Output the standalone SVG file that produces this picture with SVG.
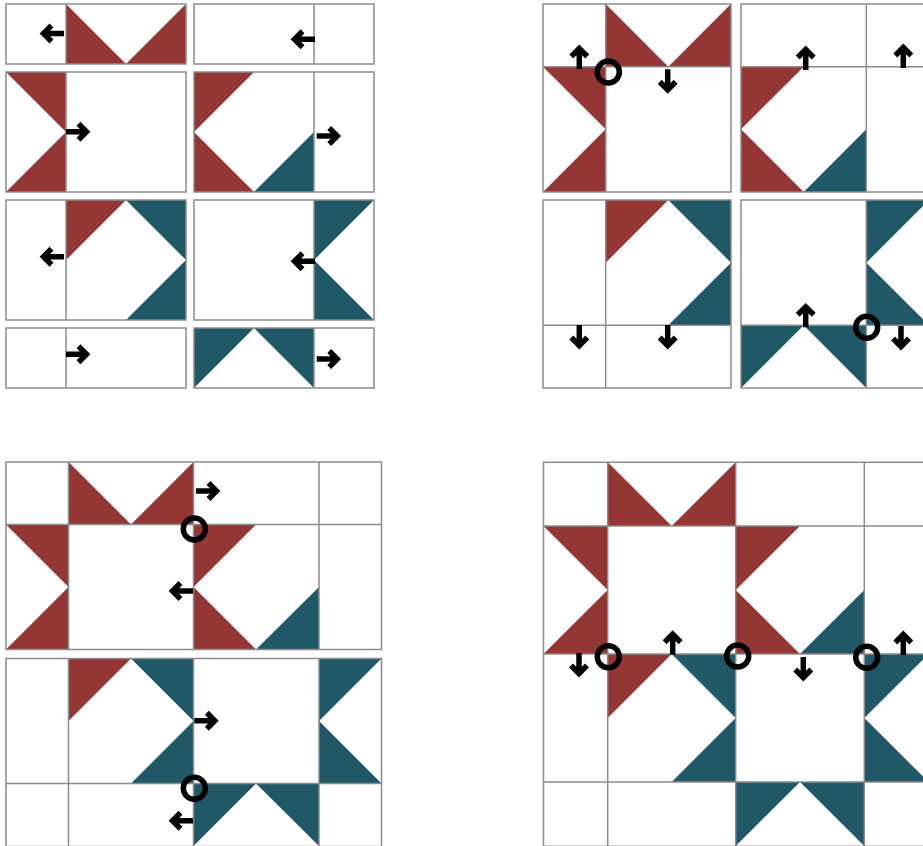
<svg xmlns="http://www.w3.org/2000/svg" xmlns:xlink="http://www.w3.org/1999/xlink" width="923" height="846" viewBox="0 0 923 846">
<style>
.bg{fill:#fff}
.r{fill:#943634}
.t{fill:#215868}
.ln{fill:none;stroke:#8c8c8c;stroke-width:1.5}
.ring{fill:none;stroke:#000;stroke-width:5.5}
.ar{fill:none;stroke:#000;stroke-width:5.5;stroke-linejoin:miter}
</style>
<defs>
<g id="arr"><path class="ar" d="M-24,0 H-4 M-11.5,-8 L-3.5,0 L-11.5,8"/></g>
</defs>
<rect width="923" height="846" fill="#fff"/>

<g id="tl-a">
<rect class="bg" x="6" y="4" width="180" height="60"/>
<polygon class="r" points="66,4 126,64 66,64"/><polygon class="r" points="186,4 126,64 186,64"/>
<path class="ln" d="M66,4V64"/><rect class="ln" x="6" y="4" width="180" height="60"/>
</g>
<g id="tl-b">
<rect class="bg" x="194" y="4" width="180" height="60"/>
<path class="ln" d="M314,4V64"/><rect class="ln" x="194" y="4" width="180" height="60"/>
</g>
<g id="tl-c">
<rect class="bg" x="6" y="72" width="180" height="120"/>
<polygon class="r" points="6,72 66,72 66,132"/><polygon class="r" points="66,132 66,192 6,192"/>
<path class="ln" d="M66,72V192"/><rect class="ln" x="6" y="72" width="180" height="120"/>
</g>
<g id="tl-d">
<rect class="bg" x="194" y="72" width="180" height="120"/>
<polygon class="r" points="194,72 254,72 194,132"/><polygon class="r" points="194,132 254,192 194,192"/>
<polygon class="t" points="314,132 314,192 254,192"/>
<path class="ln" d="M314,72V192"/><rect class="ln" x="194" y="72" width="180" height="120"/>
</g>
<g id="tl-e">
<rect class="bg" x="6" y="200" width="180" height="120"/>
<polygon class="r" points="66,200 126,200 66,260"/>
<polygon class="t" points="126,200 186,200 186,260"/><polygon class="t" points="186,260 186,320 126,320"/>
<path class="ln" d="M66,200V320"/><rect class="ln" x="6" y="200" width="180" height="120"/>
</g>
<g id="tl-f">
<rect class="bg" x="194" y="200" width="180" height="120"/>
<polygon class="t" points="314,200 374,200 314,260"/><polygon class="t" points="314,260 374,320 314,320"/>
<path class="ln" d="M314,200V320"/><rect class="ln" x="194" y="200" width="180" height="120"/>
</g>
<g id="tl-g">
<rect class="bg" x="6" y="328" width="180" height="60"/>
<path class="ln" d="M66,328V388"/><rect class="ln" x="6" y="328" width="180" height="60"/>
</g>
<g id="tl-h">
<rect class="bg" x="194" y="328" width="180" height="60"/>
<polygon class="t" points="194,328 254,328 194,388"/><polygon class="t" points="254,328 314,328 314,388"/>
<path class="ln" d="M314,328V388"/><rect class="ln" x="194" y="328" width="180" height="60"/>
</g>

<g id="tr-a">
<rect class="bg" x="543" y="4" width="188" height="188"/>
<polygon class="r" points="605.7,4 668.3,66.7 605.7,66.7"/><polygon class="r" points="731,4 668.3,66.7 731,66.7"/>
<polygon class="r" points="543,66.7 605.7,66.7 605.7,129.3"/><polygon class="r" points="605.7,129.3 605.7,192 543,192"/>
<path class="ln" d="M605.7,4V192M543,66.7H731"/><rect class="ln" x="543" y="4" width="188" height="188"/>
</g>
<g id="tr-b">
<rect class="bg" x="741" y="4" width="188" height="188"/>
<polygon class="r" points="741,66.7 803.7,66.7 741,129.3"/><polygon class="r" points="741,129.3 803.7,192 741,192"/>
<polygon class="t" points="866.3,129.3 866.3,192 803.7,192"/>
<path class="ln" d="M866.3,4V192M741,66.7H929"/><rect class="ln" x="741" y="4" width="188" height="188"/>
</g>
<g id="tr-c">
<rect class="bg" x="543" y="200" width="188" height="188"/>
<polygon class="r" points="605.7,200 668.3,200 605.7,262.7"/>
<polygon class="t" points="668.3,200 731,200 731,262.7"/><polygon class="t" points="731,262.7 731,325.3 668.3,325.3"/>
<path class="ln" d="M605.7,200V388M543,325.3H731"/><rect class="ln" x="543" y="200" width="188" height="188"/>
</g>
<g id="tr-d">
<rect class="bg" x="741" y="200" width="188" height="188"/>
<polygon class="t" points="866.3,200 929,200 866.3,262.7"/><polygon class="t" points="866.3,262.7 929,325.3 866.3,325.3"/>
<polygon class="t" points="741,325.3 803.7,325.3 741,388"/><polygon class="t" points="803.7,325.3 866.3,325.3 866.3,388"/>
<path class="ln" d="M866.3,200V388M741,325.3H929"/><rect class="ln" x="741" y="200" width="188" height="188"/>
</g>

<g id="bl-a">
<rect class="bg" x="6" y="462" width="375.5" height="187.5"/>
<polygon class="r" points="68.5,462 131,524.5 68.5,524.5"/><polygon class="r" points="193.5,462 131,524.5 193.5,524.5"/>
<polygon class="r" points="6,524.5 68.5,524.5 68.5,587"/><polygon class="r" points="68.5,587 68.5,649.5 6,649.5"/>
<polygon class="r" points="193.5,524.5 256,524.5 193.5,587"/><polygon class="r" points="193.5,587 256,649.5 193.5,649.5"/>
<polygon class="t" points="319,587 319,649.5 256,649.5"/>
<path class="ln" d="M68.5,462V649.5M193.5,462V649.5M319,462V649.5M6,524.5H381.5"/>
<rect class="ln" x="6" y="462" width="375.5" height="187.5"/>
</g>
<g id="bl-b">
<rect class="bg" x="6" y="658.5" width="375.5" height="188"/>
<polygon class="r" points="68.5,658.5 131,658.5 68.5,721"/>
<polygon class="t" points="131,658.5 193.5,658.5 193.5,721"/><polygon class="t" points="193.5,721 193.5,783.5 131,783.5"/>
<polygon class="t" points="319,658.5 381.5,658.5 319,721"/><polygon class="t" points="319,721 381.5,783.5 319,783.5"/>
<polygon class="t" points="193.5,783.5 256,783.5 193.5,846"/><polygon class="t" points="256,783.5 319,783.5 319,846"/>
<path class="ln" d="M68.5,658.5V846M193.5,658.5V846M319,658.5V846M6,783.5H381.5"/>
<rect class="ln" x="6" y="658.5" width="375.5" height="188"/>
</g>

<g id="br">
<rect class="bg" x="543.5" y="462.3" width="385" height="384"/>
<polygon class="r" points="607.7,462.3 671.7,526 607.7,526"/><polygon class="r" points="735.7,462.3 671.7,526 735.7,526"/>
<polygon class="r" points="543.5,526 607.7,526 607.7,590"/><polygon class="r" points="607.7,590 607.7,654 543.5,654"/>
<polygon class="r" points="735.7,526 800,526 735.7,590"/><polygon class="r" points="735.7,590 800,654 735.7,654"/>
<polygon class="t" points="864.3,590 864.3,654 800,654"/>
<polygon class="r" points="607.7,654 671.7,654 607.7,718"/>
<polygon class="t" points="671.7,654 735.7,654 735.7,718"/><polygon class="t" points="735.7,718 735.7,782 671.7,782"/>
<polygon class="t" points="864.3,654 928.5,654 864.3,718"/><polygon class="t" points="864.3,718 928.5,782 864.3,782"/>
<polygon class="t" points="735.7,782 800,782 735.7,846"/><polygon class="t" points="800,782 864.3,782 864.3,846"/>
<path class="ln" d="M607.7,462.3V846M735.7,462.3V846M864.3,462.3V846M543.5,526H928.5M543.5,654H928.5M543.5,782H928.5"/>
<rect class="ln" x="543.5" y="462.3" width="385" height="384"/>
</g>

<g id="arrows">
<use xlink:href="#arr" transform="translate(40,33.5) rotate(180)"/>
<use xlink:href="#arr" transform="translate(291,39.3) rotate(180)"/>
<use xlink:href="#arr" transform="translate(90,131.7)"/>
<use xlink:href="#arr" transform="translate(340.7,136)"/>
<use xlink:href="#arr" transform="translate(40,256.7) rotate(180)"/>
<use xlink:href="#arr" transform="translate(291,261.3) rotate(180)"/>
<use xlink:href="#arr" transform="translate(90,354.3)"/>
<use xlink:href="#arr" transform="translate(340.7,359)"/>
<use xlink:href="#arr" transform="translate(579.3,45) rotate(-90)"/>
<use xlink:href="#arr" transform="translate(667.7,93.3) rotate(90)"/>
<use xlink:href="#arr" transform="translate(805.7,46) rotate(-90)"/>
<use xlink:href="#arr" transform="translate(903.3,44) rotate(-90)"/>
<use xlink:href="#arr" transform="translate(579.3,349) rotate(90)"/>
<use xlink:href="#arr" transform="translate(667.7,349) rotate(90)"/>
<use xlink:href="#arr" transform="translate(805.7,303.3) rotate(-90)"/>
<use xlink:href="#arr" transform="translate(901,350) rotate(90)"/>
<use xlink:href="#arr" transform="translate(220,491)"/>
<use xlink:href="#arr" transform="translate(169,591) rotate(180)"/>
<use xlink:href="#arr" transform="translate(218.3,720.7)"/>
<use xlink:href="#arr" transform="translate(169,820.7) rotate(180)"/>
<use xlink:href="#arr" transform="translate(579,677) rotate(90)"/>
<use xlink:href="#arr" transform="translate(672.7,630.7) rotate(-90)"/>
<use xlink:href="#arr" transform="translate(803.3,681) rotate(90)"/>
<use xlink:href="#arr" transform="translate(903.3,631) rotate(-90)"/>
</g>
<g id="rings">
<circle class="ring" cx="608.3" cy="72" r="11"/>
<circle class="ring" cx="866.7" cy="327.3" r="11"/>
<circle class="ring" cx="194.3" cy="529" r="11"/>
<circle class="ring" cx="194.3" cy="788.3" r="11"/>
<circle class="ring" cx="608.3" cy="656.7" r="11"/>
<circle class="ring" cx="737.7" cy="656" r="11"/>
<circle class="ring" cx="866.7" cy="657.3" r="11"/>
</g>
</svg>
